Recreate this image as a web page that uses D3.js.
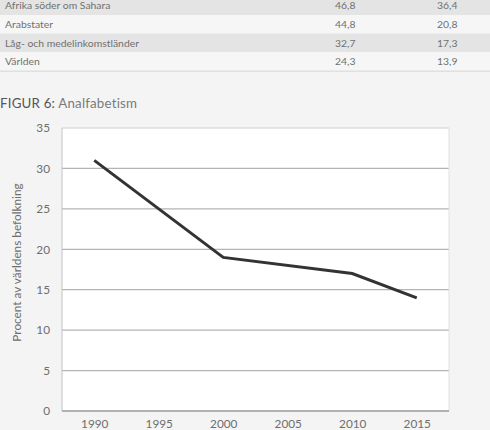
<!DOCTYPE html>
<html><head><meta charset="utf-8">
<script src="https://cdn.jsdelivr.net/npm/d3@7"></script>
<style>
html,body{margin:0;padding:0;background:#f4f4f4;}
svg{display:block;font-family:Lato,"Noto Sans",sans-serif;}
</style></head>
<body>
<svg id="c" width="490" height="430"></svg>
<script>
const tableRegions = ["Afrika söder om Sahara","Arabstater","Låg- och medelinkomstländer","Världen"];
const tableCol1 = ["46,8","44,8","32,7","24,3"];
const tableCol2 = ["36,4","20,8","17,3","13,9"];
const years = ["1990","1995","2000","2005","2010","2015"];
const lineYears = ["1990","2000","2010","2015"];
const lineValues = [31,19,17,14];
const yTicks = [0,5,10,15,20,25,30,35];
const titleBold = "FIGUR 6:";
const titleText = "Analfabetism";
const yTitle = "Procent av världens befolkning";

const svg = d3.select("#c");

// table
const rowH = 18.6, rowTop = -3.6;
const tg = svg.append("g");
tableRegions.forEach((r,i)=>{
  const y = rowTop + i*rowH;
  tg.append("rect").attr("x",0).attr("y",y).attr("width",490).attr("height",rowH)
    .attr("fill", i%2===0 ? "#e4e4e4" : "#f6f6f6");
  const ty = y + rowH/2 + 3.7;
  tg.append("text").attr("x",5).attr("y",ty).attr("font-size",10.4).attr("fill","#707070").text(r);
  tg.append("text").attr("x",335).attr("y",ty).attr("font-size",10.4).attr("fill","#707070").text(tableCol1[i]);
  tg.append("text").attr("x",437).attr("y",ty).attr("font-size",10.4).attr("fill","#707070").text(tableCol2[i]);
});
tg.append("line").attr("x1",0).attr("x2",490).attr("y1",rowTop+4*rowH+0.5).attr("y2",rowTop+4*rowH+0.5)
  .attr("stroke","#e0e0e0").attr("stroke-width",1.5);

// title
const tt = svg.append("text").attr("x",0).attr("y",107.5).attr("font-size",13.3).attr("letter-spacing",0.2);
tt.append("tspan").attr("fill","#555").text(titleBold + " ");
tt.append("tspan").attr("fill","#7a7a7a").text(titleText);

// chart
const L=62, R=449, T=128, B=411;
const x = d3.scalePoint().domain(years).range([L,R]).padding(0.5);
const y = d3.scaleLinear().domain([0,35]).range([B,T]);

svg.append("rect").attr("x",L).attr("y",T).attr("width",R-L).attr("height",B-T).attr("fill","#fff");

svg.append("g").selectAll("line").data(yTicks.filter(d=>d>0 && d<35)).join("line")
  .attr("x1",L).attr("x2",R).attr("y1",d=>y(d)).attr("y2",d=>y(d))
  .attr("stroke","#b4b4b4").attr("stroke-width",1.3);

// frame
svg.append("line").attr("x1",L).attr("x2",R).attr("y1",T).attr("y2",T).attr("stroke","#d0d0d0").attr("stroke-width",1);
svg.append("line").attr("x1",L).attr("x2",L).attr("y1",T).attr("y2",B).attr("stroke","#c4c4c4").attr("stroke-width",1);
svg.append("line").attr("x1",R).attr("x2",R).attr("y1",T).attr("y2",B).attr("stroke","#e0e0e0").attr("stroke-width",1);
svg.append("line").attr("x1",L).attr("x2",R).attr("y1",B).attr("y2",B).attr("stroke","#9a9a9a").attr("stroke-width",1.3);

// y axis labels
const yAxis = d3.axisLeft(y).tickValues(yTicks).tickSize(0).tickPadding(12);
const gy = svg.append("g").attr("transform",`translate(${L},0)`).call(yAxis);
gy.select(".domain").remove();
gy.selectAll("text").attr("font-size",11.8).attr("fill","#6e6e6e").attr("font-family",'Lato,"Noto Sans",sans-serif');

// x axis labels
const xAxis = d3.axisBottom(x).tickSize(0).tickPadding(9);
const gx = svg.append("g").attr("transform",`translate(0,${B})`).call(xAxis);
gx.select(".domain").remove();
gx.selectAll("text").attr("font-size",11.8).attr("fill","#6e6e6e").attr("font-family",'Lato,"Noto Sans",sans-serif');

// y title
svg.append("text").attr("transform",`translate(21,${(T+B)/2-7}) rotate(-90)`)
  .attr("text-anchor","middle").attr("font-size",11.8).attr("fill","#6e6e6e").text(yTitle);

// line
const pts = lineYears.map((yr,i)=>[x(yr), y(lineValues[i])]);
svg.append("path").attr("d", d3.line()(pts)).attr("fill","none")
  .attr("stroke","#333").attr("stroke-width",3).attr("stroke-linejoin","miter");
</script>
</body></html>
